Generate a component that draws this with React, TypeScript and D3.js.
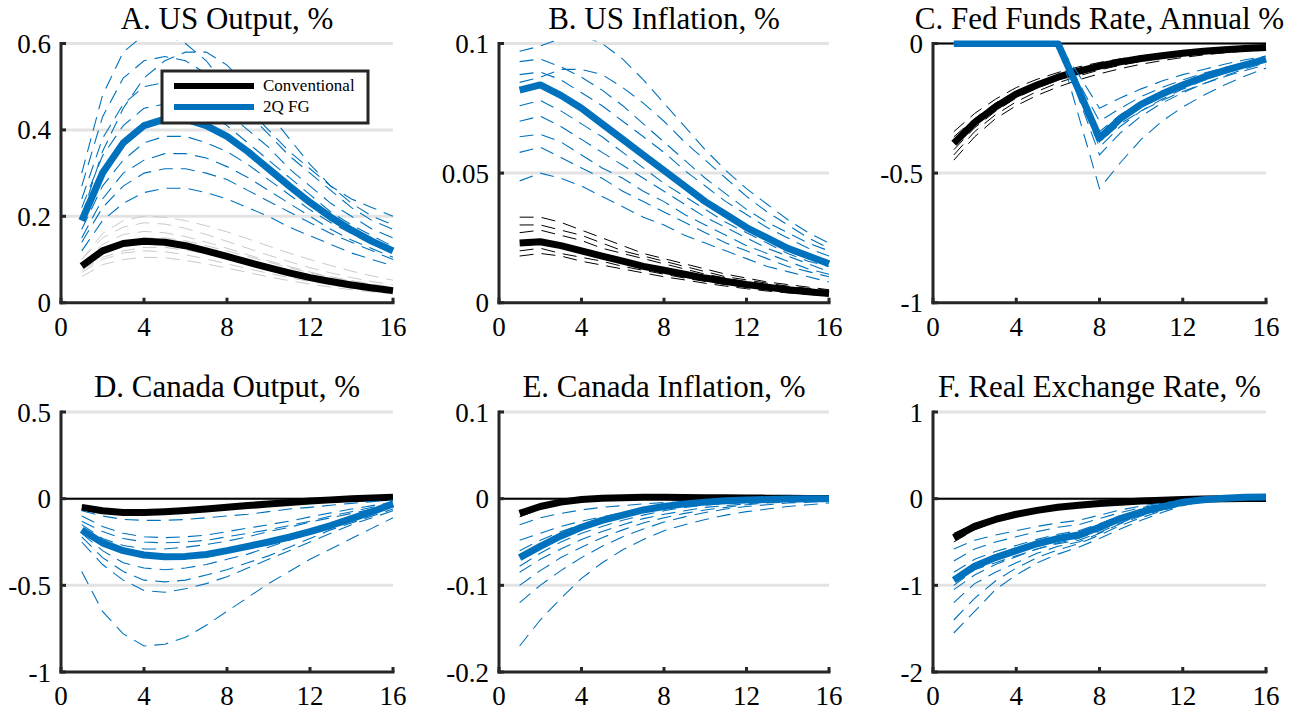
import * as d3 from 'd3';

// quarters 1..16
const quarters = d3.range(1, 17);
const xTicks = [0, 4, 8, 12, 16];

// A. US Output
const usOutConv = [0.085, 0.12, 0.137, 0.142, 0.14, 0.132, 0.12, 0.107, 0.094, 0.081, 0.069, 0.058, 0.049, 0.041, 0.034, 0.028];
const usOutFG = [0.19, 0.3, 0.37, 0.41, 0.425, 0.425, 0.41, 0.385, 0.35, 0.31, 0.27, 0.232, 0.198, 0.168, 0.142, 0.12];
const usOutConvDraws = [
  [0.1, 0.15, 0.175, 0.185, 0.182, 0.172, 0.158, 0.142, 0.126, 0.11, 0.095, 0.081, 0.069, 0.058, 0.049, 0.041],
  [0.09, 0.135, 0.158, 0.165, 0.162, 0.153, 0.14, 0.126, 0.111, 0.097, 0.084, 0.071, 0.06, 0.051, 0.043, 0.036],
  [0.07, 0.1, 0.115, 0.12, 0.118, 0.111, 0.101, 0.09, 0.079, 0.068, 0.058, 0.049, 0.041, 0.034, 0.028, 0.023],
  [0.06, 0.088, 0.1, 0.105, 0.104, 0.098, 0.09, 0.08, 0.07, 0.06, 0.051, 0.043, 0.036, 0.03, 0.025, 0.02],
  [0.08, 0.118, 0.14, 0.15, 0.15, 0.143, 0.132, 0.12, 0.107, 0.094, 0.081, 0.069, 0.059, 0.05, 0.042, 0.035],
  [0.075, 0.105, 0.12, 0.128, 0.128, 0.122, 0.113, 0.103, 0.092, 0.081, 0.07, 0.06, 0.051, 0.043, 0.036, 0.03],
  [0.1, 0.16, 0.19, 0.2, 0.198, 0.19, 0.178, 0.164, 0.148, 0.131, 0.115, 0.1, 0.086, 0.073, 0.062, 0.052],
];
const usOutFGDraws = [
  [0.3, 0.48, 0.58, 0.62, 0.62, 0.6, 0.56, 0.5, 0.45, 0.4, 0.35, 0.31, 0.27, 0.24, 0.22, 0.2],
  [0.27, 0.43, 0.52, 0.56, 0.57, 0.56, 0.53, 0.49, 0.44, 0.39, 0.34, 0.3, 0.26, 0.22, 0.19, 0.17],
  [0.24, 0.38, 0.46, 0.5, 0.51, 0.5, 0.48, 0.44, 0.4, 0.36, 0.31, 0.27, 0.23, 0.2, 0.17, 0.15],
  [0.22, 0.34, 0.41, 0.45, 0.46, 0.46, 0.44, 0.41, 0.37, 0.33, 0.29, 0.25, 0.21, 0.18, 0.155, 0.13],
  [0.17, 0.27, 0.33, 0.37, 0.385, 0.385, 0.37, 0.35, 0.32, 0.285, 0.25, 0.215, 0.185, 0.16, 0.135, 0.115],
  [0.15, 0.24, 0.3, 0.33, 0.345, 0.345, 0.335, 0.315, 0.29, 0.26, 0.23, 0.2, 0.17, 0.145, 0.125, 0.105],
  [0.12, 0.19, 0.23, 0.255, 0.265, 0.265, 0.255, 0.24, 0.22, 0.2, 0.175, 0.155, 0.135, 0.115, 0.1, 0.085],
  [0.14, 0.22, 0.27, 0.3, 0.31, 0.31, 0.3, 0.285, 0.26, 0.235, 0.21, 0.185, 0.16, 0.14, 0.12, 0.1],
  [0.2, 0.35, 0.45, 0.52, 0.56, 0.58, 0.58, 0.55, 0.5, 0.44, 0.38, 0.32, 0.27, 0.23, 0.2, 0.18],
];

// B. US Inflation
const usInfConv = [0.023, 0.0235, 0.022, 0.02, 0.018, 0.016, 0.014, 0.0125, 0.011, 0.0095, 0.0082, 0.007, 0.006, 0.005, 0.0042, 0.0035];
const usInfFG = [0.082, 0.084, 0.08, 0.075, 0.069, 0.063, 0.057, 0.051, 0.045, 0.039, 0.034, 0.029, 0.025, 0.021, 0.018, 0.015];
const usInfConvDraws = [
  [0.033, 0.033, 0.031, 0.028, 0.025, 0.022, 0.019, 0.017, 0.015, 0.013, 0.011, 0.0095, 0.008, 0.007, 0.006, 0.005],
  [0.03, 0.03, 0.028, 0.026, 0.023, 0.02, 0.018, 0.016, 0.014, 0.012, 0.01, 0.0088, 0.0075, 0.0064, 0.0055, 0.0047],
  [0.027, 0.028, 0.026, 0.024, 0.021, 0.019, 0.017, 0.015, 0.013, 0.011, 0.0095, 0.008, 0.007, 0.006, 0.005, 0.0042],
  [0.02, 0.021, 0.019, 0.0175, 0.016, 0.014, 0.0125, 0.011, 0.0095, 0.0082, 0.007, 0.006, 0.005, 0.0042, 0.0035, 0.003],
  [0.018, 0.019, 0.018, 0.016, 0.0145, 0.013, 0.0115, 0.01, 0.0088, 0.0075, 0.0064, 0.0054, 0.0045, 0.0038, 0.0032, 0.0027],
];
const usInfFGDraws = [
  [0.097, 0.099, 0.102, 0.103, 0.1, 0.094, 0.086, 0.077, 0.068, 0.059, 0.051, 0.044, 0.038, 0.032, 0.027, 0.023],
  [0.093, 0.094, 0.091, 0.087, 0.082, 0.076, 0.069, 0.062, 0.055, 0.048, 0.042, 0.036, 0.031, 0.027, 0.023, 0.02],
  [0.088, 0.089, 0.086, 0.081, 0.076, 0.07, 0.064, 0.058, 0.051, 0.045, 0.039, 0.034, 0.029, 0.025, 0.021, 0.018],
  [0.076, 0.078, 0.074, 0.069, 0.064, 0.058, 0.052, 0.046, 0.041, 0.036, 0.031, 0.027, 0.023, 0.019, 0.016, 0.014],
  [0.07, 0.072, 0.068, 0.063, 0.058, 0.053, 0.048, 0.043, 0.038, 0.033, 0.029, 0.025, 0.021, 0.018, 0.015, 0.012],
  [0.064, 0.065, 0.062, 0.057, 0.052, 0.048, 0.043, 0.039, 0.034, 0.03, 0.026, 0.022, 0.019, 0.016, 0.013, 0.011],
  [0.058, 0.06, 0.056, 0.052, 0.048, 0.043, 0.039, 0.035, 0.031, 0.027, 0.023, 0.02, 0.017, 0.014, 0.012, 0.01],
  [0.047, 0.05, 0.048, 0.045, 0.041, 0.037, 0.033, 0.03, 0.026, 0.023, 0.02, 0.017, 0.014, 0.012, 0.01, 0.008],
  [0.085, 0.087, 0.09, 0.09, 0.088, 0.083, 0.077, 0.07, 0.062, 0.055, 0.048, 0.041, 0.035, 0.03, 0.025, 0.021],
];

// C. Fed Funds Rate
const ffrConv = [-0.385, -0.305, -0.245, -0.195, -0.16, -0.13, -0.107, -0.087, -0.071, -0.058, -0.047, -0.038, -0.03, -0.024, -0.019, -0.015];
const ffrFG = [0, 0, 0, 0, 0, 0, -0.18, -0.365, -0.29, -0.235, -0.195, -0.16, -0.13, -0.105, -0.082, -0.06];
const ffrConvDraws = [
  [-0.34, -0.27, -0.215, -0.17, -0.138, -0.112, -0.09, -0.073, -0.059, -0.048, -0.038, -0.031, -0.025, -0.02, -0.016, -0.012],
  [-0.43, -0.34, -0.275, -0.225, -0.185, -0.152, -0.125, -0.102, -0.084, -0.069, -0.056, -0.045, -0.036, -0.029, -0.023, -0.018],
  [-0.36, -0.29, -0.23, -0.185, -0.15, -0.122, -0.1, -0.081, -0.066, -0.054, -0.044, -0.035, -0.028, -0.022, -0.018, -0.014],
  [-0.41, -0.325, -0.262, -0.21, -0.172, -0.14, -0.115, -0.094, -0.077, -0.063, -0.051, -0.041, -0.033, -0.026, -0.021, -0.016],
  [-0.45, -0.36, -0.29, -0.24, -0.2, -0.168, -0.14, -0.117, -0.097, -0.08, -0.066, -0.054, -0.044, -0.036, -0.029, -0.023],
];
const ffrFGDraws = [
  [0, 0, 0, 0, 0, 0, -0.12, -0.25, -0.21, -0.175, -0.145, -0.12, -0.1, -0.08, -0.063, -0.048],
  [0, 0, 0, 0, 0, 0, -0.15, -0.3, -0.25, -0.205, -0.17, -0.14, -0.115, -0.093, -0.074, -0.057],
  [0, 0, 0, 0, 0, 0, -0.2, -0.4, -0.32, -0.26, -0.215, -0.176, -0.143, -0.115, -0.09, -0.068],
  [0, 0, 0, 0, 0, 0, -0.21, -0.43, -0.345, -0.28, -0.23, -0.19, -0.155, -0.125, -0.098, -0.074],
  [0, 0, 0, 0, 0, 0, -0.28, -0.56, -0.46, -0.37, -0.3, -0.245, -0.2, -0.16, -0.125, -0.095],
  [0, 0, 0, 0, 0, 0, -0.17, -0.34, -0.275, -0.225, -0.185, -0.152, -0.124, -0.1, -0.079, -0.06],
  [0, 0, 0, 0, 0, 0, -0.19, -0.38, -0.31, -0.26, -0.22, -0.185, -0.155, -0.128, -0.104, -0.082],
];

// D. Canada Output
const caOutConv = [-0.05, -0.07, -0.08, -0.08, -0.075, -0.068, -0.06, -0.05, -0.04, -0.031, -0.022, -0.014, -0.007, -0.001, 0.004, 0.008];
const caOutFG = [-0.18, -0.255, -0.3, -0.325, -0.335, -0.333, -0.322, -0.3, -0.275, -0.25, -0.222, -0.19, -0.155, -0.115, -0.075, -0.03];
const caOutConvDraws = [
  [-0.04, -0.06, -0.07, -0.07, -0.065, -0.058, -0.05, -0.042, -0.034, -0.026, -0.018, -0.011, -0.005, 0, 0.004, 0.007],
  [-0.06, -0.08, -0.09, -0.09, -0.085, -0.078, -0.069, -0.058, -0.047, -0.036, -0.026, -0.017, -0.009, -0.002, 0.003, 0.008],
];
const caOutFGDraws = [
  [-0.42, -0.65, -0.78, -0.85, -0.84, -0.8, -0.73, -0.65, -0.57, -0.49, -0.42, -0.35, -0.29, -0.23, -0.17, -0.11],
  [-0.25, -0.38, -0.47, -0.53, -0.54, -0.52, -0.49, -0.45, -0.4, -0.35, -0.3, -0.25, -0.2, -0.15, -0.11, -0.07],
  [-0.22, -0.34, -0.42, -0.47, -0.48, -0.47, -0.44, -0.41, -0.37, -0.33, -0.28, -0.23, -0.18, -0.14, -0.1, -0.06],
  [-0.2, -0.3, -0.37, -0.4, -0.41, -0.4, -0.38, -0.35, -0.32, -0.28, -0.24, -0.2, -0.16, -0.12, -0.085, -0.05],
  [-0.13, -0.19, -0.23, -0.25, -0.255, -0.25, -0.24, -0.22, -0.2, -0.18, -0.155, -0.13, -0.1, -0.075, -0.05, -0.025],
  [-0.1, -0.16, -0.2, -0.22, -0.225, -0.22, -0.21, -0.19, -0.17, -0.15, -0.13, -0.105, -0.082, -0.06, -0.04, -0.02],
  [-0.07, -0.1, -0.12, -0.125, -0.125, -0.12, -0.11, -0.1, -0.09, -0.075, -0.06, -0.05, -0.038, -0.027, -0.017, -0.008],
  [-0.15, -0.23, -0.27, -0.29, -0.29, -0.28, -0.265, -0.245, -0.22, -0.19, -0.165, -0.135, -0.11, -0.085, -0.06, -0.035],
];

// E. Canada Inflation
const caInfConv = [-0.017, -0.009, -0.004, -0.001, 0.0005, 0.0012, 0.0015, 0.0015, 0.0014, 0.0012, 0.001, 0.0008, 0.0006, 0.0004, 0.0003, 0.0002];
const caInfFG = [-0.068, -0.055, -0.043, -0.033, -0.025, -0.019, -0.013, -0.009, -0.006, -0.004, -0.0025, -0.0015, -0.001, -0.0005, -0.0002, 0];
const caInfConvDraws = [
  [-0.021, -0.012, -0.006, -0.002, 0, 0.001, 0.0015, 0.0015, 0.0014, 0.0012, 0.001, 0.0008, 0.0006, 0.0004, 0.0003, 0.0002],
  [-0.014, -0.007, -0.003, 0, 0.001, 0.0015, 0.0017, 0.0016, 0.0015, 0.0013, 0.0011, 0.0009, 0.0007, 0.0005, 0.0003, 0.0002],
];
const caInfFGDraws = [
  [-0.17, -0.14, -0.115, -0.092, -0.074, -0.059, -0.047, -0.037, -0.03, -0.024, -0.019, -0.015, -0.012, -0.009, -0.007, -0.005],
  [-0.12, -0.1, -0.083, -0.068, -0.055, -0.044, -0.035, -0.027, -0.021, -0.016, -0.012, -0.009, -0.007, -0.005, -0.004, -0.003],
  [-0.1, -0.083, -0.068, -0.056, -0.045, -0.036, -0.028, -0.022, -0.017, -0.013, -0.01, -0.007, -0.005, -0.004, -0.003, -0.002],
  [-0.085, -0.07, -0.058, -0.047, -0.038, -0.03, -0.023, -0.018, -0.014, -0.01, -0.008, -0.006, -0.004, -0.003, -0.002, -0.001],
  [-0.048, -0.04, -0.032, -0.026, -0.021, -0.016, -0.012, -0.009, -0.007, -0.005, -0.004, -0.003, -0.002, -0.001, -0.0008, -0.0005],
  [-0.03, -0.022, -0.017, -0.013, -0.01, -0.008, -0.006, -0.0045, -0.0035, -0.0025, -0.002, -0.0015, -0.001, -0.0008, -0.0005, -0.0003],
  [-0.078, -0.063, -0.05, -0.04, -0.032, -0.025, -0.019, -0.014, -0.01, -0.0075, -0.0055, -0.004, -0.003, -0.002, -0.0015, -0.001],
  [-0.06, -0.048, -0.038, -0.03, -0.024, -0.018, -0.014, -0.01, -0.0075, -0.0055, -0.004, -0.003, -0.002, -0.0015, -0.001, -0.0006],
];

// F. Real Exchange Rate
const rerConv = [-0.45, -0.32, -0.24, -0.18, -0.135, -0.1, -0.075, -0.055, -0.04, -0.028, -0.018, -0.01, -0.004, 0, 0.002, 0.003];
const rerFG = [-0.94, -0.78, -0.68, -0.6, -0.52, -0.46, -0.42, -0.33, -0.23, -0.155, -0.095, -0.04, -0.012, 0.005, 0.015, 0.02];
const rerConvDraws = [
  [-0.5, -0.36, -0.27, -0.2, -0.15, -0.11, -0.08, -0.06, -0.043, -0.03, -0.02, -0.011, -0.005, -0.001, 0.002, 0.003],
  [-0.4, -0.29, -0.21, -0.16, -0.12, -0.09, -0.067, -0.05, -0.036, -0.025, -0.016, -0.009, -0.003, 0, 0.002, 0.003],
];
const rerFGDraws = [
  [-1.55, -1.3, -1.05, -0.88, -0.74, -0.64, -0.56, -0.46, -0.35, -0.25, -0.16, -0.08, -0.03, 0, 0.01, 0.015],
  [-1.4, -1.15, -0.95, -0.8, -0.68, -0.59, -0.52, -0.42, -0.31, -0.22, -0.14, -0.07, -0.025, 0, 0.01, 0.015],
  [-1.2, -0.98, -0.85, -0.74, -0.63, -0.55, -0.5, -0.4, -0.29, -0.2, -0.13, -0.065, -0.02, 0.002, 0.012, 0.018],
  [-1.05, -0.88, -0.76, -0.67, -0.58, -0.51, -0.46, -0.37, -0.26, -0.18, -0.11, -0.05, -0.015, 0.004, 0.014, 0.02],
  [-0.85, -0.7, -0.61, -0.54, -0.47, -0.41, -0.37, -0.29, -0.2, -0.135, -0.08, -0.035, -0.01, 0.005, 0.015, 0.02],
  [-0.72, -0.58, -0.5, -0.44, -0.38, -0.33, -0.3, -0.23, -0.16, -0.105, -0.06, -0.025, -0.005, 0.006, 0.014, 0.018],
  [-0.58, -0.48, -0.42, -0.37, -0.32, -0.28, -0.25, -0.19, -0.13, -0.085, -0.05, -0.02, -0.004, 0.006, 0.012, 0.016],
  [-1.0, -0.82, -0.74, -0.66, -0.58, -0.52, -0.48, -0.39, -0.28, -0.19, -0.12, -0.055, -0.018, 0.003, 0.013, 0.019],
];

const titles = [
  'A. US Output, %', 'B. US Inflation, %', 'C. Fed Funds Rate, Annual %',
  'D. Canada Output, %', 'E. Canada Inflation, %', 'F. Real Exchange Rate, %',
];
const yDomains = [[0, 0.6], [0, 0.1], [-1, 0], [-1, 0.5], [-0.2, 0.1], [-2, 1]];
const yTickValues = [
  [0, 0.2, 0.4, 0.6], [0, 0.05, 0.1], [-1, -0.5, 0],
  [-1, -0.5, 0, 0.5], [-0.2, -0.1, 0, 0.1], [-2, -1, 0, 1],
];
const yTickLabels = [
  ['0', '0.2', '0.4', '0.6'], ['0', '0.05', '0.1'], ['-1', '-0.5', '0'],
  ['-1', '-0.5', '0', '0.5'], ['-0.2', '-0.1', '0', '0.1'], ['-2', '-1', '0', '1'],
];
const convMain = [usOutConv, usInfConv, ffrConv, caOutConv, caInfConv, rerConv];
const fgMain = [usOutFG, usInfFG, ffrFG, caOutFG, caInfFG, rerFG];
const convDraws = [usOutConvDraws, usInfConvDraws, ffrConvDraws, caOutConvDraws, caInfConvDraws, rerConvDraws];
const fgDraws = [usOutFGDraws, usInfFGDraws, ffrFGDraws, caOutFGDraws, caInfFGDraws, rerFGDraws];
const legendLabels = ['Conventional', '2Q FG'];

const BLUE = '#0072BD';
const AXIS = '#262626';
const GRID = '#e3e3e3';
const FONT = '"Liberation Serif", "Times New Roman", serif';

const colLeft = [61, 499, 933];
const colRight = [393, 829, 1266];
const rowTop = [43.5, 412];
const rowBottom = [302.7, 672];

function Panel({ i }: { i: number }) {
  const col = i % 3;
  const row = Math.floor(i / 3);
  const x0 = colLeft[col], x1 = colRight[col];
  const y0 = rowTop[row], y1 = rowBottom[row];
  const x = d3.scaleLinear().domain([0, 16]).range([x0, x1]);
  const y = d3.scaleLinear().domain(yDomains[i]).range([y1, y0]);
  const line = d3.line<number>().x((_, j) => x(quarters[j])).y(d => y(d));
  const clipId = `clip${i}`;
  const convDrawColor = i === 0 ? '#c9c9c9' : '#000';
  const hasZero = yDomains[i][0] < 0;
  return (
    <g>
      <defs>
        <clipPath id={clipId}>
          <rect x={x0} y={y0 - 3} width={x1 - x0 + 4} height={y1 - y0 + 3} />
        </clipPath>
      </defs>
      <text x={(x0 + x1) / 2} y={row === 0 ? 29 : 397} textAnchor="middle" fontSize={31} fontFamily={FONT} fill="#000">
        {titles[i]}
      </text>
      {yTickValues[i].filter(v => v !== yDomains[i][0]).map(v => (
        <line key={`g${v}`} x1={x0} x2={x1} y1={y(v)} y2={y(v)} stroke={GRID} strokeWidth={3} />
      ))}
      {hasZero && <line x1={x0} x2={x1} y1={y(0)} y2={y(0)} stroke="#000" strokeWidth={2} />}
      <g clipPath={`url(#${clipId})`} fill="none">
        {convDraws[i].map((d, k) => (
          <path key={`c${k}`} d={line(d) || ''} stroke={convDrawColor} strokeWidth={1} strokeDasharray="14,8" />
        ))}
        <path d={line(convMain[i]) || ''} stroke="#000" strokeWidth={7} strokeLinejoin="round" />
        {fgDraws[i].map((d, k) => (
          <path key={`f${k}`} d={line(d) || ''} stroke={BLUE} strokeWidth={1.1} strokeDasharray="14,8" />
        ))}
        <path d={line(fgMain[i]) || ''} stroke={BLUE} strokeWidth={7} strokeLinejoin="round" />
      </g>
      <line x1={x0} x2={x0} y1={y0 - 1.5} y2={y1 + 1.5} stroke={AXIS} strokeWidth={3} />
      <line x1={x0 - 1.5} x2={x1 + 1.5} y1={y1} y2={y1} stroke={AXIS} strokeWidth={3} />
      {yTickValues[i].map((v, k) => (
        <g key={`yt${v}`}>
          <line x1={x0} x2={x0 + 5} y1={y(v)} y2={y(v)} stroke={AXIS} strokeWidth={3} />
          <text x={x0 - 10} y={y(v) + 9.5} textAnchor="end" fontSize={27} fontFamily={FONT} fill="#000">
            {yTickLabels[i][k]}
          </text>
        </g>
      ))}
      {xTicks.map(v => (
        <g key={`xt${v}`}>
          <line x1={x(v)} x2={x(v)} y1={y1} y2={y1 - 5} stroke={AXIS} strokeWidth={3} />
          <text x={x(v)} y={y1 + 33} textAnchor="middle" fontSize={27} fontFamily={FONT} fill="#000">
            {v}
          </text>
        </g>
      ))}
    </g>
  );
}

function Legend() {
  const colors = ['#000', BLUE];
  return (
    <g>
      <rect x={162} y={71} width={206} height={52} fill="#fff" stroke={AXIS} strokeWidth={3} />
      {legendLabels.map((l, k) => (
        <g key={l}>
          <line x1={174} x2={254} y1={86 + k * 21} y2={86 + k * 21} stroke={colors[k]} strokeWidth={6} />
          <text x={263} y={91 + k * 21} fontSize={17} fontFamily={FONT} fill="#000">{l}</text>
        </g>
      ))}
    </g>
  );
}

export default function App() {
  return (
    <svg width={1311} height={710} style={{ position: 'absolute', left: 0, top: 0, background: '#fff' }}>
      <rect width={1311} height={710} fill="#fff" />
      {titles.map((_, i) => <Panel key={i} i={i} />)}
      <Legend />
    </svg>
  );
}
